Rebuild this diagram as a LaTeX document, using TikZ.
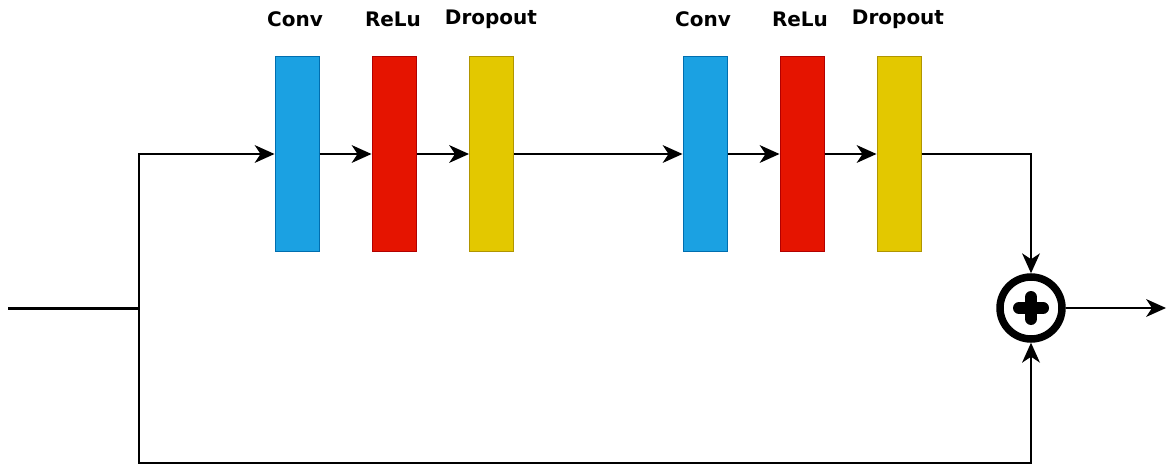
\documentclass[tikz,border=0pt]{standalone}
\usepackage{fontspec}
\setmainfont{DejaVu Sans}
\usetikzlibrary{arrows.meta}
\begin{document}
\begin{tikzpicture}[x=1pt,y=-1pt,
  layer/.style={rectangle,draw,line width=1pt,minimum width=44pt,minimum height=195pt,inner sep=0pt},
  conv/.style={layer,fill={rgb,255:red,27;green,161;blue,226},draw={rgb,255:red,0;green,110;blue,175}},
  relu/.style={layer,fill={rgb,255:red,229;green,20;blue,0},draw={rgb,255:red,178;green,0;blue,0}},
  drop/.style={layer,fill={rgb,255:red,227;green,200;blue,0},draw={rgb,255:red,176;green,149;blue,0}},
  lbl/.style={font=\fontsize{20}{20}\selectfont\bfseries,inner sep=0pt},
  tip/.tip={Stealth[length=20pt,width=18pt,inset=6pt,line width=0pt]},
  conn/.style={line width=1.8pt,-tip}]
\useasboundingbox (0,0) rectangle (1167,465);
\node[conv] (c1) at (297,154) {};
\node[relu] (r1) at (394,154) {};
\node[drop] (d1) at (491.5,154) {};
\node[conv] (c2) at (705,154) {};
\node[relu] (r2) at (802,154) {};
\node[drop] (d2) at (899,154) {};
\node[lbl] (l1) at (295,19) {Conv};
\node[lbl] (l2) at (393,19) {ReLu};
\node[lbl] (l3) at (491,19) {Dropout};
\node[lbl] (l4) at (703,19) {Conv};
\node[lbl] (l5) at (800,19) {ReLu};
\node[lbl] (l6) at (898,19) {Dropout};
\node[circle,draw,line width=7.5pt,minimum size=62pt,inner sep=0pt,fill=white] (add) at (1031,308) {};
\draw[line width=12pt,line cap=round] ([xshift=-12pt]add.center) -- ([xshift=12pt]add.center)
  ([yshift=-11pt]add.center) -- ([yshift=11pt]add.center);
\coordinate (in) at (8,308);
\coordinate (br) at (139,308);
\coordinate (out) at (1166,308);
\draw[line width=3pt] (in) -- (br);
\draw[conn] (br) |- (c1.west);
\draw[conn] (c1.east) -- (r1.west);
\draw[conn] (r1.east) -- (d1.west);
\draw[conn] (d1.east) -- (c2.west);
\draw[conn] (c2.east) -- (r2.west);
\draw[conn] (r2.east) -- (d2.west);
\draw[conn] (d2.east) -| (add.north);
\draw[conn] (br) |- (1031,463) -- (add.south);
\draw[conn] (add.east) -- (out);
\end{tikzpicture}
\end{document}
